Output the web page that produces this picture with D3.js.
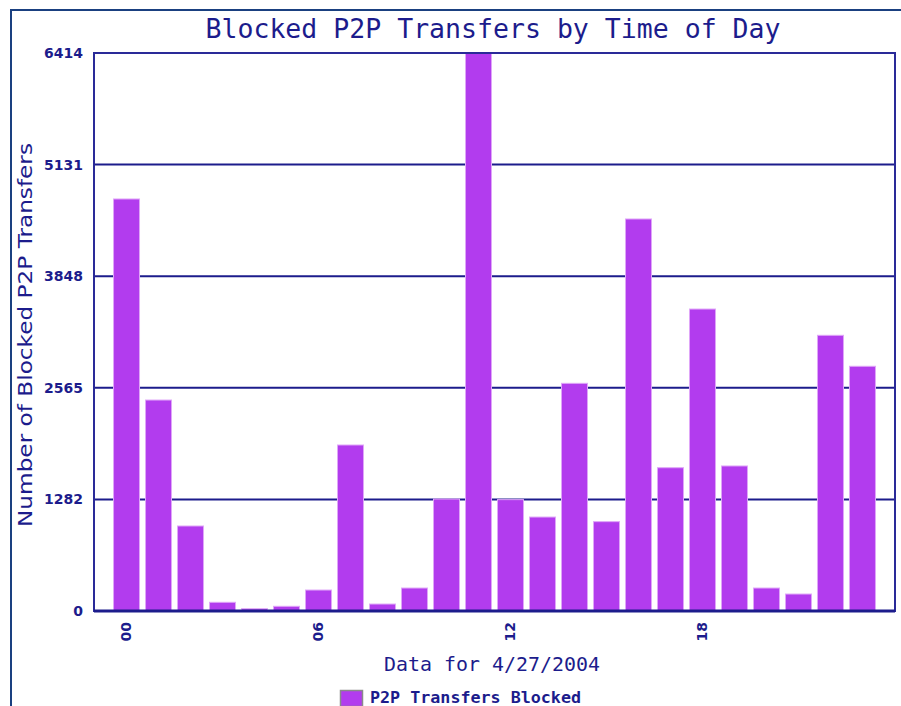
<!DOCTYPE html>
<html>
<head>
<meta charset="utf-8">
<script src="https://cdn.jsdelivr.net/npm/d3@7"></script>
<style>
  body { margin: 0; background: #fff; }
  svg { display: block; }
</style>
</head>
<body>
<svg id="chart" width="901" height="706"></svg>
<script>
// hours of the day and blocked transfer counts
const hours = ["00","01","02","03","04","05","06","07","08","09","10","11",
               "12","13","14","15","16","17","18","19","20","21","22","23"];
const blocked = [4736, 2425, 977, 100, 26, 54, 241, 1908, 80, 264, 1287, 6414,
                 1280, 1080, 2617, 1027, 4506, 1647, 3471, 1667, 264, 195, 3169, 2813];
const yTicks = [0, 1282, 2565, 3848, 5131, 6414];
const xTicks = ["00", "06", "12", "18"];

const W = 901, H = 706;
const plot = { left: 94, top: 53, right: 895, bottom: 611 };
const navy = "#1c1c8c";
const barFill = "#b23cee";

const svg = d3.select("#chart").attr("viewBox", [0, 0, W, H]);

// outer frame
svg.append("rect")
  .attr("x", 11).attr("y", 10)
  .attr("width", 1200).attr("height", 1200)
  .attr("fill", "none")
  .attr("stroke", "#1a4080")
  .attr("stroke-width", 2);

const x = d3.scaleBand()
  .domain(hours)
  .range([plot.left, plot.right])
  .paddingInner(0.1875)
  .paddingOuter(0.61);
const y = d3.scaleLinear()
  .domain([0, 6414])
  .range([plot.bottom, plot.top]);

// gridlines
svg.append("g")
  .selectAll("line")
  .data(yTicks.slice(1))
  .join("line")
  .attr("x1", plot.left).attr("x2", plot.right)
  .attr("y1", d => y(d)).attr("y2", d => y(d))
  .attr("stroke", navy)
  .attr("stroke-width", 2);

// bars
svg.append("g")
  .selectAll("rect")
  .data(blocked)
  .join("rect")
  .attr("x", (d, i) => x(hours[i]))
  .attr("width", x.bandwidth())
  .attr("y", d => y(d))
  .attr("height", d => y(0) - y(d))
  .attr("fill", barFill)
  .attr("stroke", "#dfa6f8")
  .attr("stroke-width", 1);

// plot frame
svg.append("rect")
  .attr("x", plot.left).attr("y", plot.top)
  .attr("width", plot.right - plot.left)
  .attr("height", plot.bottom - plot.top)
  .attr("fill", "none")
  .attr("stroke", "#2a2a98")
  .attr("stroke-width", 2);
svg.append("line")
  .attr("x1", plot.left).attr("x2", plot.right)
  .attr("y1", plot.bottom).attr("y2", plot.bottom)
  .attr("stroke", navy).attr("stroke-width", 3);

// y axis labels
const yAxis = svg.append("g")
  .attr("transform", `translate(${plot.left - 11},0)`)
  .call(d3.axisLeft(y).tickValues(yTicks).tickSize(0).tickFormat(d3.format("d")));
yAxis.select(".domain").remove();
yAxis.selectAll("text")
  .attr("x", 0)
  .attr("fill", navy)
  .style("font-family", "DejaVu Sans, Verdana, sans-serif")
  .style("font-size", "14px")
  .style("font-weight", "bold");

// x axis labels (rotated)
const xAxis = svg.append("g")
  .attr("transform", `translate(0,${plot.bottom + 11})`)
  .call(d3.axisBottom(x).tickValues(xTicks).tickSize(0));
xAxis.select(".domain").remove();
xAxis.selectAll("text")
  .attr("transform", "rotate(-90)")
  .attr("x", 0).attr("y", 0)
  .attr("dy", "0.35em")
  .attr("text-anchor", "end")
  .attr("fill", navy)
  .style("font-family", "DejaVu Sans, Verdana, sans-serif")
  .style("font-size", "14px")
  .style("font-weight", "bold");

// title
svg.append("text")
  .attr("x", 493).attr("y", 38)
  .attr("text-anchor", "middle")
  .attr("fill", navy)
  .attr("textLength", 575)
  .attr("lengthAdjust", "spacingAndGlyphs")
  .style("font-family", "DejaVu Sans Mono, monospace")
  .style("font-size", "26px")
  .text("Blocked P2P Transfers by Time of Day");

// axis titles
svg.append("text")
  .attr("transform", `translate(32,335) rotate(-90)`)
  .attr("text-anchor", "middle")
  .attr("fill", navy)
  .attr("textLength", 384)
  .attr("lengthAdjust", "spacingAndGlyphs")
  .style("font-family", "DejaVu Sans, Verdana, sans-serif")
  .style("font-size", "20px")
  .text("Number of Blocked P2P Transfers");

svg.append("text")
  .attr("x", 492).attr("y", 671)
  .attr("text-anchor", "middle")
  .attr("fill", navy)
  .attr("textLength", 216)
  .attr("lengthAdjust", "spacingAndGlyphs")
  .style("font-family", "DejaVu Sans Mono, monospace")
  .style("font-size", "20px")
  .text("Data for 4/27/2004");

// legend
const legend = svg.append("g").attr("transform", "translate(340,690)");
legend.append("rect")
  .attr("x", 0.5).attr("y", 0.5)
  .attr("width", 22).attr("height", 16)
  .attr("fill", barFill)
  .attr("stroke", "#8a8a8a")
  .attr("stroke-width", 1.5);
legend.append("text")
  .attr("x", 30).attr("y", 13)
  .attr("fill", navy)
  .attr("textLength", 211)
  .attr("lengthAdjust", "spacingAndGlyphs")
  .style("font-family", "DejaVu Sans Mono, monospace")
  .style("font-size", "16px")
  .style("font-weight", "bold")
  .text("P2P Transfers Blocked");
</script>
</body>
</html>
